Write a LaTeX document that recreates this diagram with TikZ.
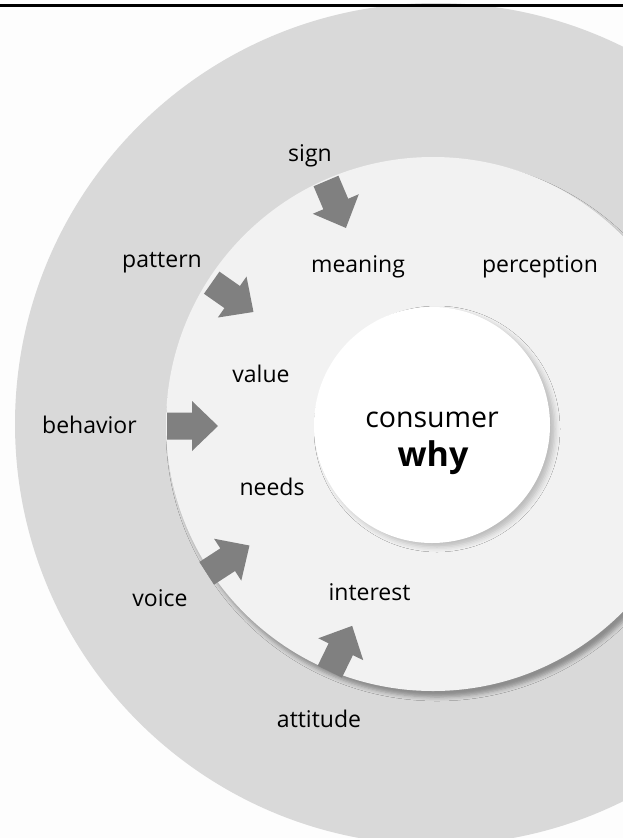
\documentclass[tikz,border=0pt]{standalone}
\usepackage{fontspec}
\setmainfont{Open Sans}
\usetikzlibrary{shadows.blur}
\definecolor{ringgray}{HTML}{D9D9D9}
\definecolor{discgray}{HTML}{F2F2F2}
\definecolor{arrowgray}{HTML}{808080}
\definecolor{paper}{HTML}{FDFDFD}
\begin{document}
\begin{tikzpicture}[x=1pt,y=-1pt,
  word/.style={font=\fontsize{23}{27}\selectfont, inner sep=0pt, anchor=base, text=black},
  core/.style={font=\fontsize{28.5}{32}\selectfont, inner sep=0pt, anchor=base, text=black},
  coreb/.style={font=\fontsize{34}{36}\selectfont\bfseries, inner sep=0pt, anchor=base, text=black},
  blockarrow/.pic={\fill[arrowgray] (0,-13.5) -- (25,-13.5) -- (25,-25) -- (51,0) -- (25,25) -- (25,13.5) -- (0,13.5) -- cycle;}
]
\useasboundingbox (0,0) rectangle (623,838);
\clip (0,0) rectangle (623,838);
\fill[paper] (0,0) rectangle (623,838);

% three concentric discs
\fill[ringgray] (436,424) circle (421pt);
\fill[discgray, blur shadow={shadow xshift=4pt, shadow yshift=-6pt, shadow blur radius=4pt, shadow opacity=35}] (433,424) circle (267pt);
\fill[white, blur shadow={shadow xshift=5pt, shadow yshift=-4pt, shadow blur radius=5pt, shadow opacity=22}] (432,425) circle (118pt);

% top rule
\fill[black] (0,3.5) rectangle (623,6.5);

% radial arrows into the middle disc
\pic[rotate=-67] at (326,181) {blockarrow};
\pic[rotate=-35] at (211.7,282.7) {blockarrow};
\pic at (167,426) {blockarrow};
\pic[rotate=33] at (206.7,573.3) {blockarrow};
\pic[rotate=64] at (329.8,671.7) {blockarrow};

% outer ring words
\node[word] (sign) at (310,161.5) {sign};
\node[word] (pattern) at (162,267.5) {pattern};
\node[word] (behavior) at (89.5,433) {behavior};
\node[word] (voice) at (160,606) {voice};
\node[word] (attitude) at (319,727) {attitude};

% middle disc words
\node[word] (meaning) at (358,272.5) {meaning};
\node[word] (perception) at (540,272.5) {perception};
\node[word] (value) at (261,382) {value};
\node[word] (needs) at (272,495) {needs};
\node[word] (interest) at (369.5,600) {interest};

% centre
\node[core] (consumer) at (432,427) {consumer};
\node[coreb] (why) at (433,466) {why};
\end{tikzpicture}
\end{document}
